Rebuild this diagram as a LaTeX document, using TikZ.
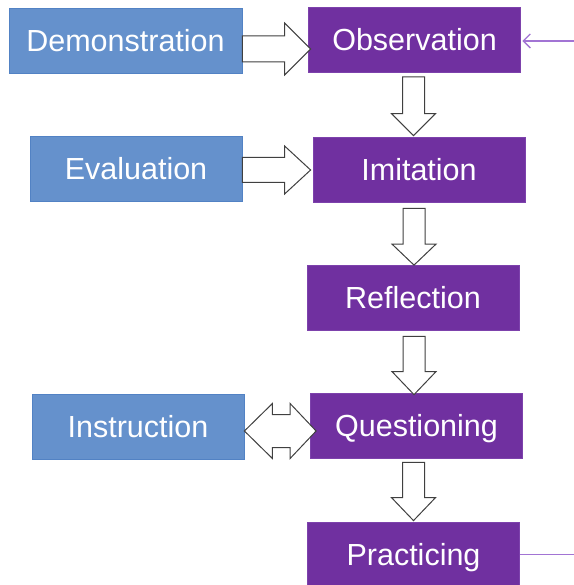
\documentclass[tikz,border=0pt]{standalone}
\usepackage{fontspec}
\setmainfont{Liberation Sans}
\usetikzlibrary{calc,arrows.meta}

\definecolor{boxblue}{HTML}{6591CC}
\definecolor{boxblueedge}{HTML}{5282C4}
\definecolor{boxpurple}{HTML}{7030A0}
\definecolor{boxpurpleedge}{HTML}{7D42AC}
\definecolor{loopline}{HTML}{A274D4}
\definecolor{arrowedge}{HTML}{404040}

\tikzset{
  stage/.style={draw=boxpurpleedge, fill=boxpurple, line width=0.8pt, text=white,
    minimum width=212pt, minimum height=65pt, inner sep=0pt,
    text height=22pt, text depth=0pt,
    font=\fontsize{30.5}{36}\selectfont},
  source/.style={stage, draw=boxblueedge, fill=boxblue},
  blockarrow/.style={draw=arrowedge, fill=white, line width=1pt, line join=miter},
  feedback/.style={draw=loopline, line width=1.3pt, -{Straight Barb[length=7pt,width=14pt]}}
}

% right-pointing block arrow: tail, tip, axis offset below tip, shaft half, head half, head length
\newcommand{\blockright}[6]{%
  \draw[blockarrow] let \p1=(#1), \p2=(#2) in
    (\x1,\y2-#3+#4) -- (\x2-#6,\y2-#3+#4) -- (\x2-#6,\y2-#3+#5) -- (\x2,\y2-#3)
    -- (\x2-#6,\y2-#3-#5) -- (\x2-#6,\y2-#3-#4) -- (\x1,\y2-#3-#4) -- cycle;}

% downward block arrow: tail, tip, shaft half, head half, head length
\newcommand{\blockdown}[5]{%
  \draw[blockarrow] let \p1=(#1), \p2=(#2) in
    (\x1-#3,\y1) -- (\x1-#3,\y2+#5) -- (\x1-#4,\y2+#5) -- (\x1,\y2)
    -- (\x1+#4,\y2+#5) -- (\x1+#3,\y2+#5) -- (\x1+#3,\y1) -- cycle;}

\begin{document}
\begin{tikzpicture}[x=1pt,y=-1pt]
\useasboundingbox (0,0) rectangle (573,585);

% boxes
\node[source, minimum width=233pt] (demo) at (125.5,41) {Demonstration};
\node[stage] (obs) at (414.5,40) {Observation};
\node[source] (eval) at (136,169) {Evaluation};
\node[stage] (imit) at (419,170) {Imitation};
\node[stage] (refl) at (413,297.5) {Reflection};
\node[source] (instr) at (138,426.5) {Instruction};
\node[stage] (quest) at (416.5,425.5) {Questioning};
\node[stage] (prac) at (413.5,554.5) {Practicing};

% side inputs
\blockright{demo.east}{[xshift=2.5pt]obs.west}{9pt}{13pt}{26pt}{26pt}
\blockright{eval.east}{[xshift=-2pt]imit.west}{0pt}{12.5pt}{24pt}{26pt}

% two-way arrow between instruction and questioning
\draw[blockarrow] let \p1=(instr.east), \p2=([xshift=6pt]quest.west),
    \n1={\y2-5.5pt} in
  (\x1,\n1) -- (\x1+28pt,\n1+27.5pt) -- (\x1+28pt,\n1+16.5pt)
  -- (\x2-26pt,\n1+16.5pt) -- (\x2-26pt,\n1+27.5pt) -- (\x2,\n1)
  -- (\x2-26pt,\n1-27.5pt) -- (\x2-26pt,\n1-16.5pt)
  -- (\x1+28pt,\n1-16.5pt) -- (\x1+28pt,\n1-27.5pt) -- cycle;

% main sequence
\blockdown{[xshift=-1pt,yshift=-4pt]obs.south}{[yshift=1.5pt]imit.north}{11pt}{22pt}{22pt}
\blockdown{[xshift=-5pt,yshift=-5.5pt]imit.south}{[yshift=-0.5pt]refl.north}{11pt}{22pt}{21pt}
\blockdown{[xshift=1pt,yshift=-6pt]refl.south}{[yshift=-2pt]quest.north}{11pt}{22pt}{23pt}
\blockdown{[xshift=-3pt,yshift=-4pt]quest.south}{[yshift=1pt]prac.north}{11pt}{22pt}{23pt}

% loop back from practicing to observation
\draw[feedback] (prac.east) -- ++(70,0) |- ([xshift=1.5pt,yshift=-1pt]obs.east);
\end{tikzpicture}
\end{document}
